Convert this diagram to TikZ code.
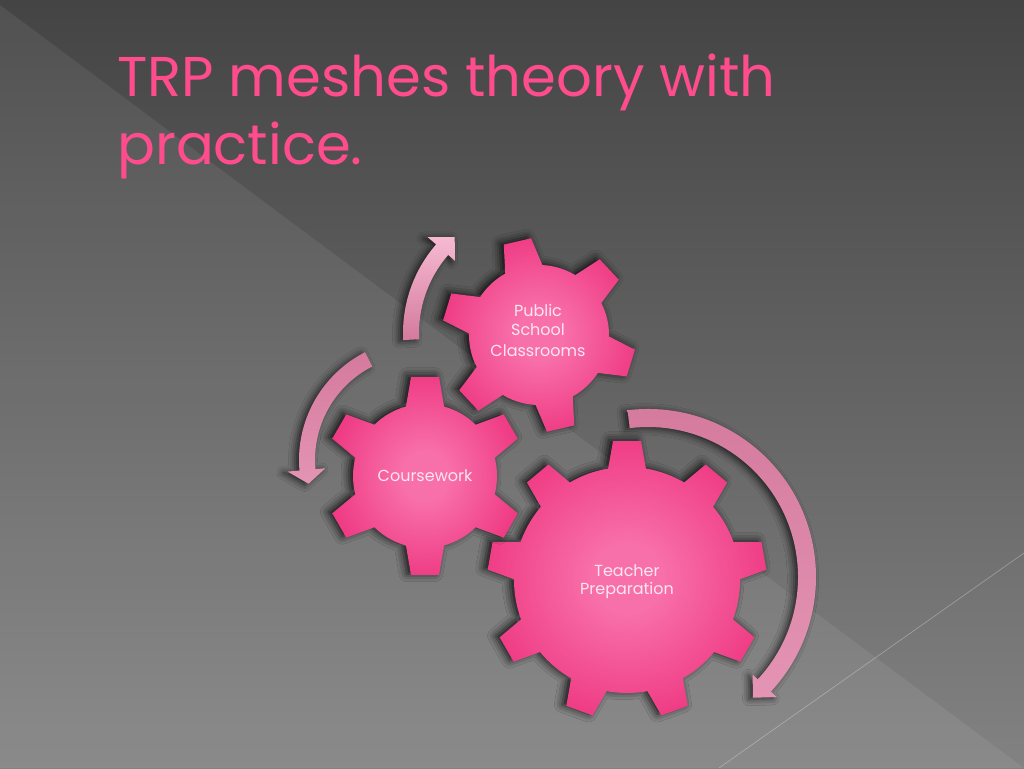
\documentclass[tikz,border=0pt]{standalone}
\usepackage{fontspec}
\setmainfont{Poppins}
\usetikzlibrary{shadows.blur}
\definecolor{bgtop}{RGB}{68,68,68}
\definecolor{bgbot}{RGB}{130,130,130}
\definecolor{gearD}{RGB}{234,30,110}
\definecolor{gearL}{RGB}{248,112,170}
\definecolor{titlepink}{RGB}{255,76,140}
\definecolor{geartext}{RGB}{253,230,240}
\definecolor{arrDark}{RGB}{212,122,157}
\definecolor{arrLight}{RGB}{246,186,209}
\definecolor{arrMid}{RGB}{228,148,180}
\pgfdeclareradialshading{gearshade}{\pgfpoint{0bp}{0bp}}{color(0bp)=(gearL); color(6bp)=(gearL); color(37bp)=(gearD); color(50bp)=(gearD)}
\tikzset{
  gearfill/.style={shading=gearshade, blur shadow={shadow xshift=-3pt, shadow yshift=1pt, shadow blur radius=6pt, shadow opacity=85}},
  arrowshadow/.style={blur shadow={shadow xshift=-3pt, shadow yshift=-1pt, shadow blur radius=5pt, shadow opacity=70}},
  titletext/.style={text=titlepink, font=\fontsize{42}{50}\selectfont, inner sep=0pt, anchor=base west},
  geartextstyle/.style={text=geartext, font=\fontsize{12}{14}\selectfont, inner sep=0pt, anchor=base},
}
\newcommand\drawgearshape[6]{%
  \begin{scope}[shift={(#1,#2)}]
    \pgfmathsetmacro\gba{atan(20/(#3-8))}
    \pgfmathsetmacro\gbr{(#3-8)/cos(\gba)}
    \pgfmathsetmacro\gta{atan(14/#4)}
    \pgfmathsetmacro\gtr{#4/cos(\gta)}
    \shade[gearfill] (0,0) circle[radius=#3]
      \foreach \k in {1,...,#5}{
        ({#6+\k*360/#5-\gba}:\gbr) -- ({#6+\k*360/#5-\gta}:\gtr) --
        ({#6+\k*360/#5+\gta}:\gtr) -- ({#6+\k*360/#5+\gba}:\gbr) -- cycle};
  \end{scope}}
\begin{document}
\begin{tikzpicture}[x=0.75pt,y=0.75pt]
\useasboundingbox (0,0) rectangle (1024,768);
% background
\shade[top color=bgtop, bottom color=bgbot] (0,0) rectangle (1024,768);
\fill[white, opacity=0.07] (0,763) -- (1024,0) -- (0,0) -- cycle;
\draw[white, opacity=0.3, line width=0.5pt] (719,0) -- (1024,215);
% title
\node[titletext] (title1) at (117,671) {TRP meshes theory with};
\node[titletext] (title2) at (117,603) {practice.};
% arrows
\begin{scope}[shift={(538,435)}]
  \shade[top color=arrLight, bottom color=arrDark, arrowshadow]
    (183:135) arc[start angle=183, end angle=139, radius=135]
    -- (139:146) -- (131:127) -- (139:110) -- (139:119)
    arc[start angle=139, end angle=183, radius=119] -- cycle;
\end{scope}
\begin{scope}[shift={(420,308)}]
  \shade[top color=arrDark, middle color=arrLight, bottom color=arrMid, arrowshadow]
    (117:121) arc[start angle=117, end angle=185, radius=121]
    -- (185:133) -- (192:114) -- (185:95) -- (185:105)
    arc[start angle=185, end angle=117, radius=105] -- cycle;
\end{scope}
\begin{scope}[shift={(648,191)}]
  \shade[top color=arrDark, middle color=arrLight, bottom color=arrMid, arrowshadow]
    (97:168) arc[start angle=97, end angle=-43, radius=168]
    -- (-43:176) -- (-49:160) -- (-43:143) -- (-43:150)
    arc[start angle=-43, end angle=97, radius=150] -- cycle;
\end{scope}
% gears
\drawgearshape{627}{188}{113}{139}{9}{90}
\drawgearshape{425}{292}{72}{99}{6}{90}
\drawgearshape{539}{433}{70}{96}{6}{103}
% gear labels
\node[geartextstyle] (pub1) at (538,451) {Public};
\node[geartextstyle] (pub2) at (538,432.5) {School};
\node[geartextstyle] (pub3) at (538,411) {Classrooms};
\node[geartextstyle] (course) at (425,286) {Coursework};
\node[geartextstyle] (teach1) at (627,192) {Teacher};
\node[geartextstyle] (teach2) at (627,174) {Preparation};
\end{tikzpicture}
\end{document}
